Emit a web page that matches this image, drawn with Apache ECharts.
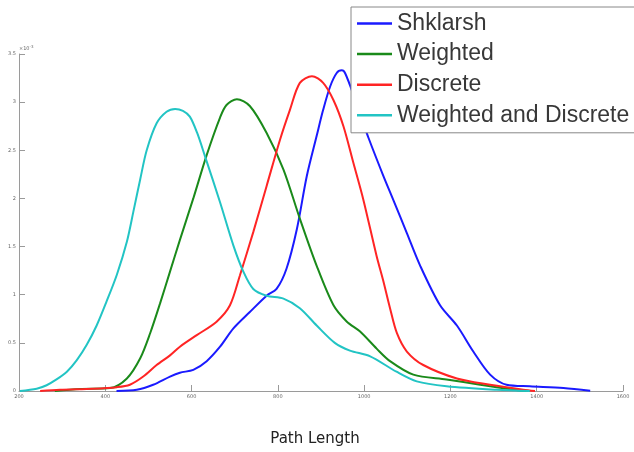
<!DOCTYPE html>
<html>
<head>
<meta charset="utf-8">
<script src="https://cdn.jsdelivr.net/npm/echarts@6/dist/echarts.min.js"></script>
<style>
html,body{margin:0;padding:0;background:#fff;}
#chart{width:634px;height:452px;}
</style>
</head>
<body>
<div id="chart"></div>
<script>
// Values in units of 1e-3
const seriesNames = ['Shklarsh', 'Weighted', 'Discrete', 'Weighted and Discrete'];

const shklarshX = [426, 473, 511, 550, 573, 604, 635, 666, 697, 735, 774, 797, 820, 844, 867, 890, 905, 921, 936, 948, 956, 979, 995, 1010, 1044, 1068, 1099, 1130, 1176, 1215, 1253, 1292, 1330, 1384, 1462, 1524];
const shklarshY = [0, 0.013, 0.065, 0.15, 0.19, 0.22, 0.31, 0.46, 0.65, 0.82, 0.99, 1.06, 1.27, 1.68, 2.23, 2.65, 2.92, 3.16, 3.30, 3.33, 3.30, 3.03, 2.82, 2.63, 2.24, 1.98, 1.64, 1.30, 0.89, 0.68, 0.41, 0.17, 0.065, 0.049, 0.031, 0.003];

const weightedX = [283, 341, 411, 450, 481, 504, 527, 550, 573, 604, 635, 666, 681, 705, 735, 774, 813, 851, 890, 929, 960, 990, 1029, 1060, 1114, 1191, 1269, 1346, 1384];
const weightedY = [0, 0.02, 0.03, 0.13, 0.34, 0.60, 0.91, 1.24, 1.57, 2.00, 2.45, 2.84, 2.97, 3.03, 2.96, 2.68, 2.30, 1.79, 1.30, 0.89, 0.72, 0.62, 0.44, 0.31, 0.17, 0.12, 0.065, 0.013, 0];

const discreteX = [249, 295, 372, 427, 457, 488, 519, 550, 573, 612, 658, 689, 712, 743, 774, 805, 828, 851, 879, 905, 929, 952, 975, 998, 1029, 1044, 1060, 1076, 1099, 1137, 1215, 1292, 1369, 1396];
const discreteY = [0, 0.013, 0.024, 0.04, 0.065, 0.15, 0.27, 0.37, 0.46, 0.58, 0.72, 0.89, 1.20, 1.65, 2.13, 2.61, 2.92, 3.20, 3.27, 3.20, 3.02, 2.75, 2.37, 1.99, 1.40, 1.15, 0.86, 0.60, 0.41, 0.27, 0.13, 0.065, 0.013, 0];

const wdX = [202, 241, 264, 287, 311, 334, 357, 380, 403, 427, 450, 465, 481, 496, 519, 542, 562, 580, 596, 613, 631, 666, 697, 720, 743, 774, 813, 851, 890, 932, 967, 1014, 1075, 1122, 1191, 1307, 1384];
const wdY = [0, 0.024, 0.06, 0.12, 0.20, 0.32, 0.48, 0.68, 0.93, 1.21, 1.55, 1.86, 2.20, 2.50, 2.78, 2.90, 2.93, 2.91, 2.85, 2.68, 2.44, 1.96, 1.51, 1.24, 1.06, 0.99, 0.96, 0.86, 0.68, 0.50, 0.42, 0.36, 0.20, 0.10, 0.05, 0.013, 0];

const xTicks = [200, 400, 600, 800, 1000, 1200, 1400, 1600];
const yTicks = [0, 0.5, 1, 1.5, 2, 2.5, 3, 3.5];

const colors = ['#1a1aff', '#1a8a1a', '#ff2424', '#22c4c4'];

function zip(xs, ys) { return xs.map((x, i) => [x, ys[i]]); }

const allData = [zip(shklarshX, shklarshY), zip(weightedX, weightedY), zip(discreteX, discreteY), zip(wdX, wdY)];

const chart = echarts.init(document.getElementById('chart'));
chart.setOption({
  animation: false,
  backgroundColor: '#fff',
  grid: { left: 19, right: 11, top: 54, bottom: 59 },
  legend: {
    orient: 'vertical',
    left: 351,
    top: 7,
    padding: [5, 6, 6, 6],
    itemWidth: 35,
    itemHeight: 2.5,
    itemGap: 7.6,
    icon: 'rect',
    backgroundColor: '#fff',
    borderColor: '#888',
    borderWidth: 1,
    borderRadius: 0,
    textStyle: { fontFamily: 'Liberation Sans, Arial, sans-serif', fontSize: 23, lineHeight: 23, color: '#383838' },
    data: seriesNames
  },
  xAxis: {
    type: 'value',
    min: xTicks[0],
    max: xTicks[xTicks.length - 1],
    interval: 200,
    name: 'Path Length',
    nameLocation: 'middle',
    nameGap: 41,
    nameTextStyle: { fontFamily: 'DejaVu Sans', fontSize: 15, color: '#222', padding: [0, 12, 0, 0] },
    splitLine: { show: false },
    axisLine: { lineStyle: { color: '#9a9a9a', width: 1 } },
    axisTick: { inside: true, length: 6, lineStyle: { color: '#9a9a9a' } },
    axisLabel: { fontSize: 5, color: '#666', margin: 3, fontFamily: 'DejaVu Sans', formatter: (v) => String(v) }
  },
  yAxis: {
    type: 'value',
    min: yTicks[0],
    max: yTicks[yTicks.length - 1],
    interval: 0.5,
    name: '×10{s|-3}',
    nameLocation: 'end',
    nameGap: 1,
    nameTextStyle: { fontSize: 5, color: '#666', align: 'left', fontFamily: 'DejaVu Sans', rich: { s: { fontSize: 4, color: '#666', padding: [0, 0, 4, 0] } } },
    splitLine: { show: false },
    axisLine: { show: true, lineStyle: { color: '#9a9a9a', width: 1 } },
    axisTick: { show: true, inside: true, length: 6, lineStyle: { color: '#9a9a9a' } },
    axisLabel: { fontSize: 5, color: '#666', margin: 3, fontFamily: 'DejaVu Sans' }
  },
  series: seriesNames.map((name, i) => ({
    name: name,
    type: 'line',
    data: allData[i],
    smooth: 0.3,
    showSymbol: false,
    symbol: 'none',
    lineStyle: { width: 2, color: colors[i] },
    itemStyle: { color: colors[i] }
  }))
});
</script>
</body>
</html>
